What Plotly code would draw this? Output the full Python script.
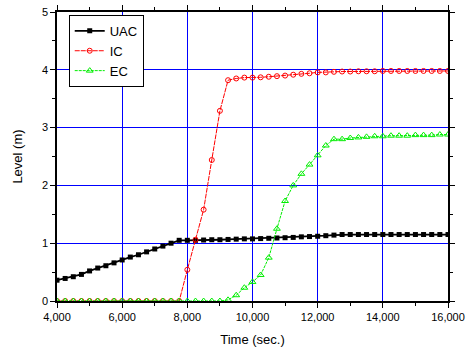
import plotly.graph_objects as go

time = [4000 + 250 * i for i in range(49)]

uac = [0.36, 0.39, 0.42, 0.46, 0.52, 0.57, 0.61, 0.66, 0.71, 0.76, 0.80, 0.85, 0.90, 0.95, 1.00, 1.05,
       1.05, 1.05, 1.055, 1.06, 1.06, 1.065, 1.07, 1.075, 1.075, 1.08, 1.085, 1.09, 1.095, 1.10, 1.11,
       1.115, 1.12, 1.13, 1.14, 1.15, 1.15, 1.15, 1.15, 1.15, 1.15, 1.15, 1.15, 1.15, 1.15, 1.15, 1.15,
       1.15, 1.15]

ic = [0, 0, 0, 0, 0, 0, 0, 0, 0, 0, 0, 0, 0, 0, 0, 0,
      0.54, 1.06, 1.58, 2.44, 3.29, 3.82, 3.85, 3.865, 3.865, 3.87, 3.88, 3.89, 3.90, 3.915, 3.93,
      3.94, 3.955, 3.955, 3.965, 3.97, 3.97, 3.975, 3.975, 3.975, 3.98, 3.98, 3.98, 3.98, 3.98, 3.98,
      3.98, 3.98, 3.98]

ec = [0, 0, 0, 0, 0, 0, 0, 0, 0, 0, 0, 0, 0, 0, 0, 0,
      0, 0, 0, 0, 0, 0.02, 0.10, 0.23, 0.33, 0.45, 0.75, 1.25, 1.73, 2.00, 2.20,
      2.36, 2.52, 2.69, 2.80, 2.80, 2.82, 2.83, 2.84, 2.85, 2.85, 2.86, 2.86, 2.86, 2.87, 2.87,
      2.87, 2.88, 2.88]

x_ticks = [4000, 6000, 8000, 10000, 12000, 14000, 16000]
x_labels = ["4,000", "6,000", "8,000", "10,000", "12,000", "14,000", "16,000"]

x_title = "Time (sec.)"
y_title = "Level (m)"

fig = go.Figure()
fig.add_trace(go.Scatter(x=time, y=uac, name="UAC", mode="lines+markers",
                         line=dict(color="black", width=1.8),
                         marker=dict(symbol="square", size=5, color="black")))
fig.add_trace(go.Scatter(x=time, y=ic, name="IC", mode="lines+markers",
                         line=dict(color="red", width=1, dash="5px,1px"),
                         marker=dict(symbol="circle-open", size=5, color="red", line=dict(width=1))))
fig.add_trace(go.Scatter(x=time, y=ec, name="EC", mode="lines+markers",
                         line=dict(color="#00ee00", width=1, dash="3px,1px"),
                         marker=dict(symbol="triangle-up-open", size=6, color="#00ee00", line=dict(width=1))))

axis_common = dict(showline=True, linecolor="black", linewidth=1.5, mirror="ticks",
                   ticks="outside", ticklen=5, tickwidth=1, tickcolor="black",
                   showgrid=True, gridcolor="#0000ff", gridwidth=1, zeroline=False,
                   automargin=False,
                   tickfont=dict(family="Liberation Sans, Arial", size=11, color="black"))

fig.update_xaxes(range=[4000, 16000], tickvals=x_ticks, ticktext=x_labels,
                 title=dict(text=x_title, font=dict(family="Liberation Sans, Arial", size=13, color="black"), standoff=13),
                 minor=dict(ticks="outside", ticklen=3, dtick=1000, tick0=4000, tickcolor="black", showgrid=False),
                 **axis_common)
fig.update_yaxes(range=[0, 5], dtick=1, tick0=0,
                 minor=dict(ticks="outside", ticklen=3, dtick=0.5, tick0=0, tickcolor="black", showgrid=False),
                 **axis_common)

fig.add_annotation(text=y_title, xref="paper", yref="paper", x=-0.102, y=0.5,
                   xanchor="center", yanchor="middle", textangle=-90, showarrow=False,
                   font=dict(family="Liberation Sans, Arial", size=13, color="black"))

fig.update_layout(
    width=466, height=351,
    margin=dict(l=57, r=18, t=12, b=50),
    paper_bgcolor="white", plot_bgcolor="white",
    showlegend=True,
    legend=dict(x=0.03, y=0.99, xanchor="left", yanchor="top",
                bgcolor="white", bordercolor="black", borderwidth=1,
                font=dict(family="Liberation Sans, Arial", size=13, color="black"),
                tracegroupgap=0, itemwidth=30),
    font=dict(family="Liberation Sans, Arial"),
)

fig.write_html("out.html", config={"displayModeBar": False},
               post_script="document.body.style.margin='0';document.body.style.overflow='hidden';")
